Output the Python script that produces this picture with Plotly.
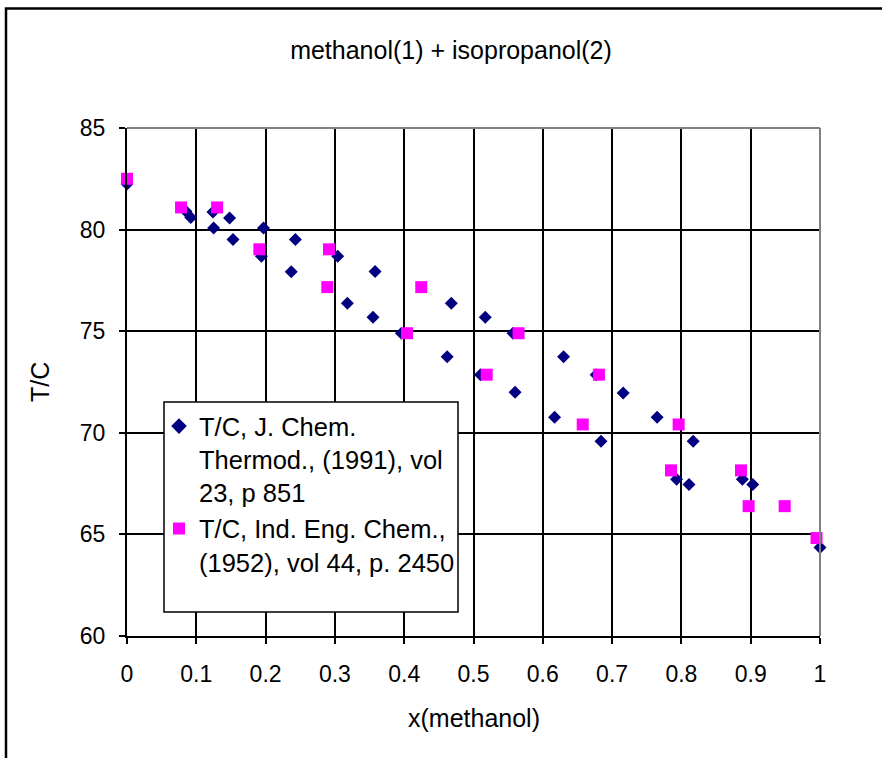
import plotly.graph_objects as go

# Data: J. Chem. Thermod. (1991) series (navy diamonds)
x_jct = [0.000, 0.085, 0.092, 0.124, 0.148, 0.125, 0.197, 0.153, 0.243, 0.194, 0.304,
         0.237, 0.318, 0.358, 0.468, 0.355, 0.517, 0.396, 0.557, 0.462, 0.630,
         0.510, 0.560, 0.677, 0.716, 0.617, 0.765, 0.684, 0.817, 0.793, 0.811,
         0.888, 0.903, 1.000]
t_jct = [82.25, 80.90, 80.60, 80.87, 80.57, 80.08, 80.08, 79.51, 79.51, 78.69, 78.69,
         77.93, 76.37, 77.94, 76.37, 75.69, 75.69, 74.90, 74.90, 73.74, 73.74,
         72.86, 71.99, 72.86, 71.96, 70.77, 70.77, 69.59, 69.59, 67.71, 67.45,
         67.71, 67.45, 64.36]

# Data: Ind. Eng. Chem. (1952) series (magenta squares)
x_iec = [0.000, 0.078, 0.130, 0.191, 0.2915, 0.289, 0.4246, 0.404, 0.565, 0.519,
         0.681, 0.6576, 0.796, 0.785, 0.886, 0.897, 0.949, 0.995]
t_iec = [82.50, 81.09, 81.09, 79.03, 79.03, 77.17, 77.17, 74.90, 74.90, 72.86,
         72.86, 70.41, 70.41, 68.15, 68.15, 66.39, 66.39, 64.82]

x_ticks = [0, 0.1, 0.2, 0.3, 0.4, 0.5, 0.6, 0.7, 0.8, 0.9, 1]
x_ticklabels = ["0", "0.1", "0.2", "0.3", "0.4", "0.5", "0.6", "0.7", "0.8", "0.9", "1"]
y_ticks = [60, 65, 70, 75, 80, 85]

name_jct = "T/C, J. Chem.<br>Thermod., (1991), vol<br>23, p 851"
name_iec = "T/C, Ind. Eng. Chem.,<br>(1952), vol 44, p. 2450"

FONT = "Liberation Sans, Arial, sans-serif"
FS_TICK = 23
FS_TEXT = 25
FS_LEG = 25.5

fig = go.Figure()
fig.add_trace(go.Scatter(x=x_jct, y=t_jct, mode="markers", name=name_jct,
                         marker=dict(symbol="diamond", size=10, color="#000080",
                                     line=dict(width=0)),
                         cliponaxis=False))
fig.add_trace(go.Scatter(x=x_iec, y=t_iec, mode="markers", name=name_iec,
                         marker=dict(symbol="square", size=12, color="#FF00FF",
                                     line=dict(width=0)),
                         cliponaxis=False))

L, R, T, B = 127, 62, 128, 122
W, H = 882, 758
pw, ph = W - L - R, H - T - B

def px_x(p):
    return (p - L) / pw

def px_y(p):
    return (H - B - p) / ph

shapes = [
    # outer chart border
    dict(type="rect", xref="paper", yref="paper",
         x0=px_x(6), x1=px_x(W + 20), y0=px_y(H + 20), y1=px_y(8.5),
         line=dict(color="black", width=2.5), fillcolor="rgba(0,0,0,0)", layer="above"),
    # top and right gray plot frame
    dict(type="line", xref="paper", yref="paper", x0=0, x1=1, y0=1, y1=1,
         line=dict(color="#808080", width=2), layer="above"),
    dict(type="line", xref="paper", yref="paper", x0=1, x1=1, y0=0, y1=1,
         line=dict(color="#808080", width=2), layer="above"),
    # legend box
    dict(type="rect", xref="paper", yref="paper",
         x0=px_x(164), x1=px_x(458), y0=px_y(612), y1=px_y(402),
         line=dict(color="black", width=1.5), fillcolor="white", layer="above"),
]

fig.update_layout(
    width=W, height=H,
    margin=dict(l=L, r=R, t=T, b=B, pad=0),
    paper_bgcolor="white", plot_bgcolor="white",
    font=dict(family=FONT, size=FS_TEXT, color="black"),
    title=dict(text="methanol(1) + isopropanol(2)", x=451 / W,
               xref="container", xanchor="center", y=1 - 50 / H, yanchor="middle",
               font=dict(family=FONT, size=FS_TEXT, color="black")),
    showlegend=True,
    legend=dict(x=px_x(159), y=px_y(403), xanchor="left", yanchor="top",
                bgcolor="rgba(0,0,0,0)", borderwidth=0, valign="top",
                font=dict(family=FONT, size=FS_LEG, color="black"),
                itemsizing="constant", tracegroupgap=8),
    shapes=shapes,
    annotations=[
        dict(text="x(methanol)", xref="paper", yref="paper", x=0.5, y=px_y(718),
             xanchor="center", yanchor="middle", showarrow=False,
             font=dict(family=FONT, size=FS_TEXT, color="black")),
        dict(text="T/C", xref="paper", yref="paper", x=px_x(40), y=0.5,
             xanchor="center", yanchor="middle", showarrow=False, textangle=-90,
             font=dict(family=FONT, size=FS_TEXT, color="black")),
    ],
)

fig.update_xaxes(range=[0, 1], tickvals=x_ticks, ticktext=x_ticklabels,
                 showgrid=True, gridcolor="black", gridwidth=2,
                 showline=True, linecolor="black", linewidth=2, mirror=False,
                 ticks="outside", ticklen=6, tickwidth=2, tickcolor="black",
                 zeroline=False, ticklabelstandoff=10,
                 tickfont=dict(family=FONT, size=FS_TICK, color="black"))
fig.update_yaxes(range=[60, 85], tickvals=y_ticks,
                 showgrid=True, gridcolor="black", gridwidth=2,
                 showline=True, linecolor="black", linewidth=2, mirror=False,
                 ticks="outside", ticklen=6, tickwidth=2, tickcolor="black",
                 zeroline=False, ticklabelstandoff=9,
                 tickfont=dict(family=FONT, size=FS_TICK, color="black"))

fig.write_html("out.html",
               config={"displayModeBar": False},
               post_script="document.body.style.margin='0px';"
                           "document.body.style.overflow='hidden';")
